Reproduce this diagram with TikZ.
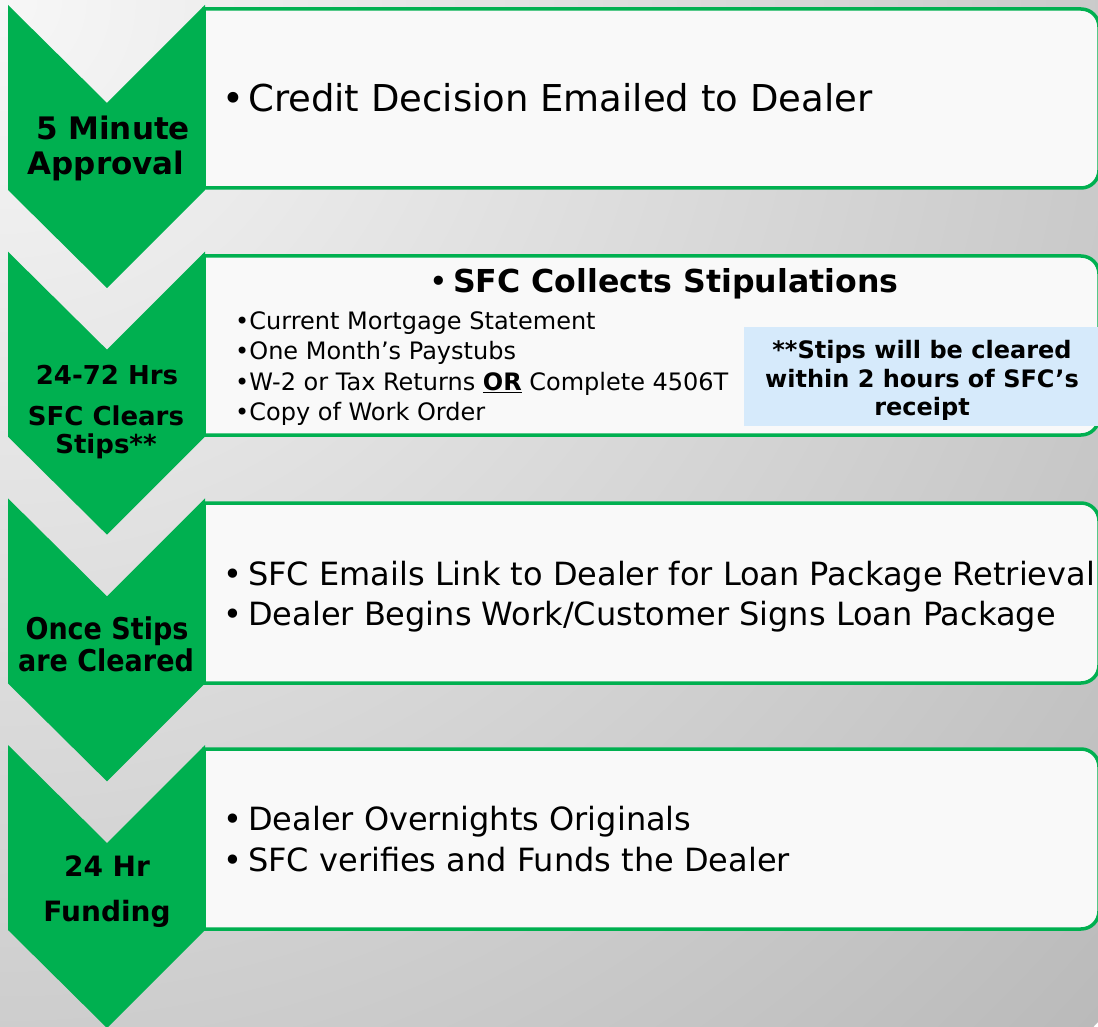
\documentclass[tikz,border=0pt]{standalone}
\usepackage{fontspec}
\setmainfont{DejaVu Sans}
\newfontfamily\condfont[FakeStretch=0.9]{DejaVu Sans}
\usetikzlibrary{calc}
\definecolor{sfcgreen}{HTML}{00B050}
\definecolor{notebg}{HTML}{D6EAFB}
\definecolor{bgA}{HTML}{F7F7F7}
\definecolor{bgB}{HTML}{BABABA}
\definecolor{boxbg}{HTML}{F9F9F9}
\newcommand{\mysz}[1]{\fontsize{#1}{#1}\selectfont}
\begin{document}
\begin{tikzpicture}[x=1pt,y=-1pt,
  chev/.style={fill=sfcgreen, draw=none},
  stepbox/.style={draw=sfcgreen, line width=3.5pt, fill=boxbg},
  txt/.style={inner sep=0pt, anchor=base west},
  bul/.style={inner sep=0pt, anchor=base},
  lbl/.style={inner sep=0pt, anchor=base},
  note/.style={fill=notebg, draw=none}
]
\useasboundingbox (0,0) rectangle (1098,1027);
% background
\begin{scope}
  \clip (0,0) rectangle (1098,1027);
  \shade[inner color=bgA, outer color=bgB] (0,0) circle (1500);
\end{scope}
% step boxes
\foreach \t/\b in {9/188, 256/435, 503/683, 749/929}{
  \draw[stepbox] (204,\t) -- (1081,\t) .. controls (1091,\t) and (1099,\t+8) .. (1099,\t+18)
     -- (1099,\b-18) .. controls (1099,\b-8) and (1091,\b) .. (1081,\b) -- (204,\b) -- cycle;
}
% chevrons
\foreach \t in {5, 251.7, 498.4, 745}{
  \fill[chev] (8,\t) -- (107,\t+98) -- (205,\t) -- (205,\t+185) -- (107,\t+283) -- (8,\t+185) -- cycle;
}
% chevron labels
\node[lbl, font=\mysz{31}\bfseries] (c1a) at (113,140) {5 Minute};
\node[lbl, font=\mysz{31}\bfseries] (c1b) at (106,175) {Approval};
\node[lbl, font=\mysz{26}\bfseries] (c2a) at (107,384) {24-72 Hrs};
\node[lbl, font=\mysz{26}\bfseries] (c2b) at (106,425) {SFC Clears};
\node[lbl, font=\mysz{26}\bfseries] (c2c) at (106,453) {Stips**};
\node[lbl, font=\condfont\mysz{30}\bfseries] (c3a) at (107,639) {Once Stips};
\node[lbl, font=\condfont\mysz{30}\bfseries] (c3b) at (106,671) {are Cleared};
\node[lbl, font=\mysz{28}\bfseries] (c4a) at (107,876) {24 Hr};
\node[lbl, font=\mysz{28}\bfseries] (c4b) at (107,921) {Funding};
% box 1
\node[bul, font=\mysz{37}] (b1d) at (233,112) {•};
\node[txt, font=\mysz{37}] (b1t) at (248,112) {Credit Decision Emailed to Dealer};
% box 2
\node[bul, font=\mysz{31.6}] (b2d) at (439,292) {•};
\node[txt, font=\mysz{31.6}\bfseries] (b2t) at (453,292) {SFC Collects Stipulations};
\node[txt, font=\mysz{24}] (b2i1) at (235,329) {•Current Mortgage Statement};
\node[txt, font=\mysz{24}] (b2i2) at (235,359.5) {•One Month’s Paystubs};
\node[txt, font=\mysz{24}] (b2i3) at (235,390) {•W-2 or Tax Returns \textbf{\underline{OR}} Complete 4506T};
\node[txt, font=\mysz{24}] (b2i4) at (235,420.5) {•Copy of Work Order};
\fill[note] (744,327) rectangle (1098,426);
\node[lbl, font=\mysz{24}\bfseries] (n1) at (922,358) {**Stips will be cleared};
\node[lbl, font=\mysz{24}\bfseries] (n2) at (922,387) {within 2 hours of SFC’s};
\node[lbl, font=\mysz{24}\bfseries] (n3) at (922,415) {receipt};
% box 3
\node[bul, font=\mysz{32}] (b3d1) at (233,585) {•};
\node[txt, font=\mysz{32}] (b3t1) at (248,585) {SFC Emails Link to Dealer for Loan Package Retrieval};
\node[bul, font=\mysz{32}] (b3d2) at (233,625) {•};
\node[txt, font=\mysz{32}] (b3t2) at (248,625) {Dealer Begins Work/Customer Signs Loan Package};
% box 4
\node[bul, font=\mysz{32}] (b4d1) at (233,830) {•};
\node[txt, font=\mysz{32}] (b4t1) at (248,830) {Dealer Overnights Originals};
\node[bul, font=\mysz{32}] (b4d2) at (233,871) {•};
\node[txt, font=\mysz{32}] (b4t2) at (248,871) {SFC verifies and Funds the Dealer};
\end{tikzpicture}
\end{document}
